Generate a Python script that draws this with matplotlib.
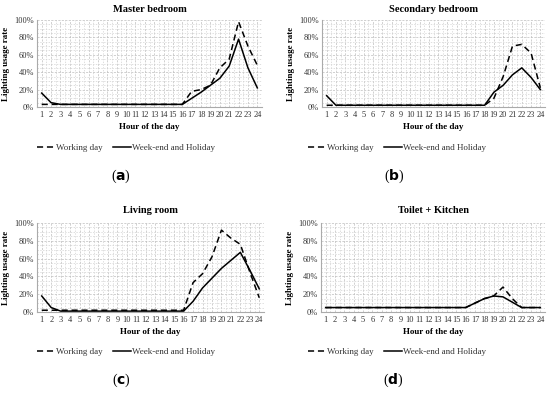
import matplotlib
matplotlib.use("Agg")
import matplotlib.pyplot as plt
from matplotlib.ticker import MultipleLocator, FuncFormatter

hours = list(range(1, 25))

titles = ["Master bedroom", "Secondary bedroom", "Living room", "Toilet + Kitchen"]
captions = ["a", "b", "c", "d"]

master_work = [3, 3, 3, 3, 3, 3, 3, 3, 3, 3, 3, 3, 3, 3, 3, 3, 18, 20, 25, 45, 55, 98, 70, 48]
master_week = [16, 5, 3, 3, 3, 3, 3, 3, 3, 3, 3, 3, 3, 3, 3, 3, 10, 17, 25, 33, 47, 78, 45, 22]

second_work = [2, 2, 2, 2, 2, 2, 2, 2, 2, 2, 2, 2, 2, 2, 2, 2, 2, 2, 10, 35, 70, 72, 62, 22]
second_week = [13, 2, 2, 2, 2, 2, 2, 2, 2, 2, 2, 2, 2, 2, 2, 2, 2, 2, 17, 25, 37, 45, 34, 20]

living_work = [2, 2, 2, 2, 2, 2, 2, 2, 2, 2, 2, 2, 2, 2, 2, 2, 33, 43, 62, 92, 83, 76, 45, 16]
living_week = [18, 5, 1, 1, 1, 1, 1, 1, 1, 1, 1, 1, 1, 1, 1, 1, 12, 27, 38, 49, 58, 67, 47, 26]

toilet_work = [5, 5, 5, 5, 5, 5, 5, 5, 5, 5, 5, 5, 5, 5, 5, 5, 10, 15, 18, 28, 15, 5, 5, 5]
toilet_week = [5, 5, 5, 5, 5, 5, 5, 5, 5, 5, 5, 5, 5, 5, 5, 5, 10, 15, 18, 17, 11, 5, 5, 5]

work_series = [master_work, second_work, living_work, toilet_work]
week_series = [master_week, second_week, living_week, toilet_week]

plt.rcParams['font.family'] = ['Liberation Serif', 'DejaVu Serif']

fig = plt.figure(figsize=(5.5, 3.97), dpi=100)
W, H = 550, 397

# axes boxes in pixel coords: (left, top, right, bottom)
boxes = [(37, 20, 262, 107), (322, 20, 545, 107), (37, 223, 264, 312), (321, 223, 545, 312)]
legend_xy = [(126, 148), (397, 148), (126, 352), (397, 352)]
caption_xy = [(121, 176), (394, 176), (121, 380), (393, 380)]
title_y = [6, 6, 207, 207]

for i in range(4):
    l, t, r, b = boxes[i]
    ax = fig.add_axes([l / W, 1 - b / H, (r - l) / W, (b - t) / H])
    ax.plot(hours, work_series[i], color='black', lw=1.1, ls=(0, (4, 2.5)), label='Working day')
    ax.plot(hours, week_series[i], color='black', lw=1.1, ls='-', label='Week-end and Holiday')
    ax.set_xlim(0.5, 24.5)
    ax.set_ylim(0, 100)
    ax.set_xticks(hours)
    ax.set_xticklabels([str(h) for h in hours], fontsize=6, color='#333333')
    ax.yaxis.set_major_locator(MultipleLocator(20))
    ax.yaxis.set_minor_locator(MultipleLocator(5))
    ax.xaxis.set_minor_locator(MultipleLocator(0.5))
    ax.yaxis.set_major_formatter(FuncFormatter(lambda v, p: f"{int(v)}%"))
    ax.tick_params(axis='y', labelsize=6, labelcolor='#333333', length=0, pad=2)
    ax.tick_params(axis='x', length=0, pad=3)
    ax.tick_params(which='minor', length=0)
    ax.grid(True, which='major', color='#bdbdbd', ls=(0, (3, 2)), lw=0.5)
    ax.grid(True, which='minor', color='#d2d2d2', ls=(0, (2, 2)), lw=0.5)
    ax.set_axisbelow(True)
    for s in ['top', 'right']:
        ax.spines[s].set_visible(False)
    for s in ['left', 'bottom']:
        ax.spines[s].set_color('#aaaaaa')
        ax.spines[s].set_linewidth(0.8)
    ax.set_ylabel('Lighting usage rate', fontsize=6.5, fontweight='bold', labelpad=3)
    ax.set_xlabel('Hour of the day', fontsize=6.5, fontweight='bold', labelpad=3)
    ax.set_title(titles[i], fontsize=7.5, fontweight='bold', pad=0,
                 y=1 + (t - title_y[i] - 6) / (b - t))
    handles, labels = ax.get_legend_handles_labels()
    lx, ly = legend_xy[i]
    fig.legend(handles, labels, loc='center', bbox_to_anchor=(lx / W, 1 - ly / H),
               ncol=2, frameon=False, fontsize=6.5, handlelength=2.0, handletextpad=0.1,
               columnspacing=1.1, labelcolor='#333333')
    cx, cy = caption_xy[i]
    fig.text(cx / W, 1 - cy / H, f"(${{\\mathbf{{{captions[i]}}}}}$)",
             ha='center', va='center', fontsize=10)

fig.savefig('out.png', dpi=100)
